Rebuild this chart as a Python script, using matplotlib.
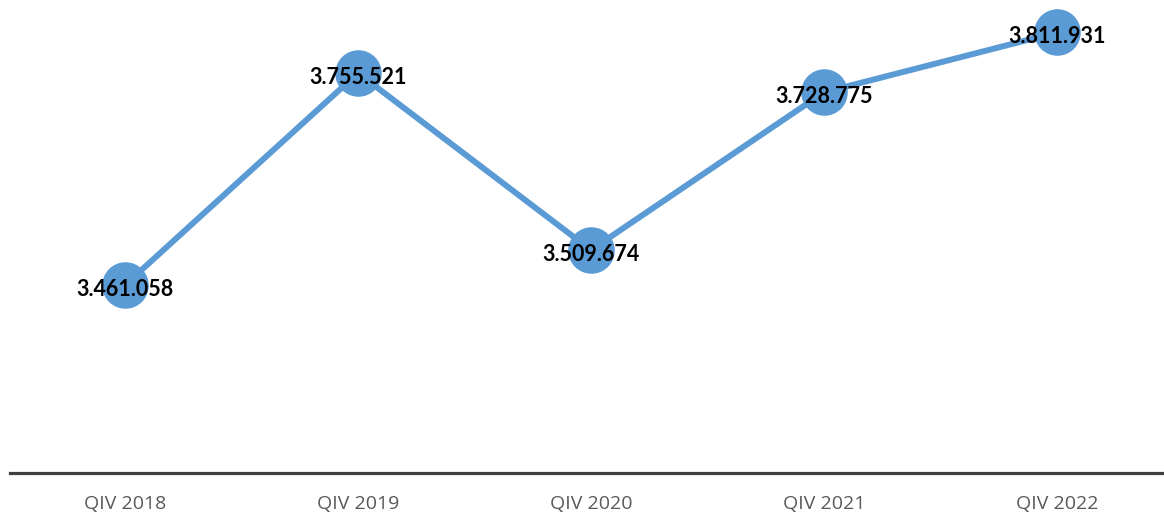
import matplotlib
matplotlib.use("Agg")
import matplotlib.pyplot as plt
from matplotlib.transforms import offset_copy

categories = ["QIV 2018", "QIV 2019", "QIV 2020", "QIV 2021", "QIV 2022"]
values = [3461058, 3755521, 3509674, 3728775, 3811931]
labels = ["3.461.058", "3.755.521", "3.509.674", "3.728.775", "3.811.931"]

W, H = 1164, 514
fig = plt.figure(figsize=(W / 100, H / 100), dpi=100)
ax = fig.add_axes([0, 41 / H, 1, 473 / H])

x = list(range(len(categories)))
ax.plot(x, values, color="#5B9BD5", lw=4.3, marker="o", markersize=32.5,
        markerfacecolor="#5B9BD5", markeredgecolor="#5B9BD5", clip_on=False, zorder=2)
trans = offset_copy(ax.transData, fig=fig, x=0, y=-4, units="dots")
for xi, v, lab in zip(x, values, labels):
    ax.text(xi, v, lab, ha="center", va="center", fontsize=15.5, fontweight="bold",
            family="Lato", color="black", zorder=3, clip_on=False, transform=trans)

x0 = -125 / 233
x1 = (W - 125) / 233
ax.set_xlim(x0, x1)
ax.set_ylim(3200000, 3200000 + 473 / 720 * 1e6)
ax.set_xticks(x)
ax.set_xticklabels(categories, fontsize=14, color="#595959", family="Open Sans")
ax.tick_params(axis="x", length=0, pad=16)
ax.set_yticks([])
for s in ["top", "right", "left"]:
    ax.spines[s].set_visible(False)
ax.spines["bottom"].set_color("#404040")
ax.spines["bottom"].set_linewidth(2.3)
ax.spines["bottom"].set_bounds(x0 + 10 / 233, x1)
ax.patch.set_alpha(0)

fig.savefig("out.png", dpi=100)
